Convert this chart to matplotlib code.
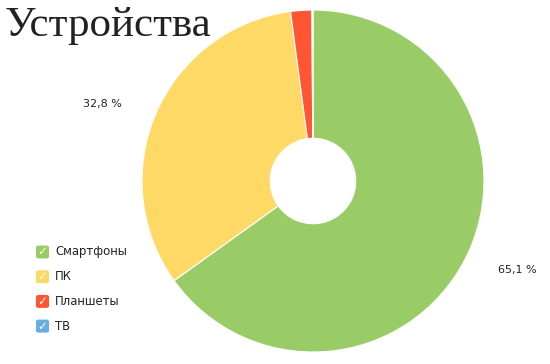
import matplotlib
matplotlib.use("Agg")
import matplotlib.pyplot as plt
from matplotlib.patches import FancyBboxPatch
import numpy as np

categories = ["Смартфоны", "ПК", "Планшеты", "ТВ"]
values = [65.1, 32.8, 2.0, 0.1]
labels = ["65,1 %", "32,8 %", "", ""]
colors = ["#99cc66", "#ffd966", "#ff5533", "#66b0e0"]
title = "Устройства"

W, H = 550, 364
fig = plt.figure(figsize=(W / 100, H / 100), dpi=100)
fig.patch.set_facecolor("white")

cx, cy, r = 313, 181, 171
ax = fig.add_axes([(cx - r) / W, 1 - (cy + r) / H, 2 * r / W, 2 * r / H])
ax.set_aspect("equal")
wedges, _ = ax.pie(values, colors=colors, startangle=90, counterclock=False,
                   radius=1.0, wedgeprops=dict(width=0.75, edgecolor="white", linewidth=0.8))
ax.set_xlim(-1, 1)
ax.set_ylim(-1, 1)
ax.axis("off")

# percentage labels outside the ring
cum = 0
for v, lab in zip(values, labels):
    mid = 90 - (cum + v / 2) / 100 * 360
    cum += v
    if not lab:
        continue
    a = np.deg2rad(mid)
    ax.text(1.34 * np.cos(a), 1.14 * np.sin(a), lab, ha="center", va="center",
            fontsize=8, family="DejaVu Sans", clip_on=False, color="#222222")

fig.text(5 / W, 1 - 26 / H, title, family="Liberation Serif", fontsize=31,
         ha="left", va="center", color="#222222")

# legend with checkbox squares
y0 = 252
for i, (cat, col) in enumerate(zip(categories, colors)):
    yy = y0 + i * 24.7
    box = FancyBboxPatch((36 / W, 1 - (yy + 6.5) / H), 13 / W, 13 / H,
                         boxstyle="round,pad=0,rounding_size=0.005",
                         transform=fig.transFigure, facecolor=col, edgecolor="none")
    fig.patches.append(box)
    fig.text(42.5 / W, 1 - yy / H, "✓", color="white", fontsize=8.5, ha="center",
             va="center", family="DejaVu Sans", fontweight="bold")
    fig.text(55 / W, 1 - yy / H, cat, fontsize=8.4, ha="left", va="center",
             family="DejaVu Sans", color="#222222")

fig.savefig("out.png", dpi=100)
